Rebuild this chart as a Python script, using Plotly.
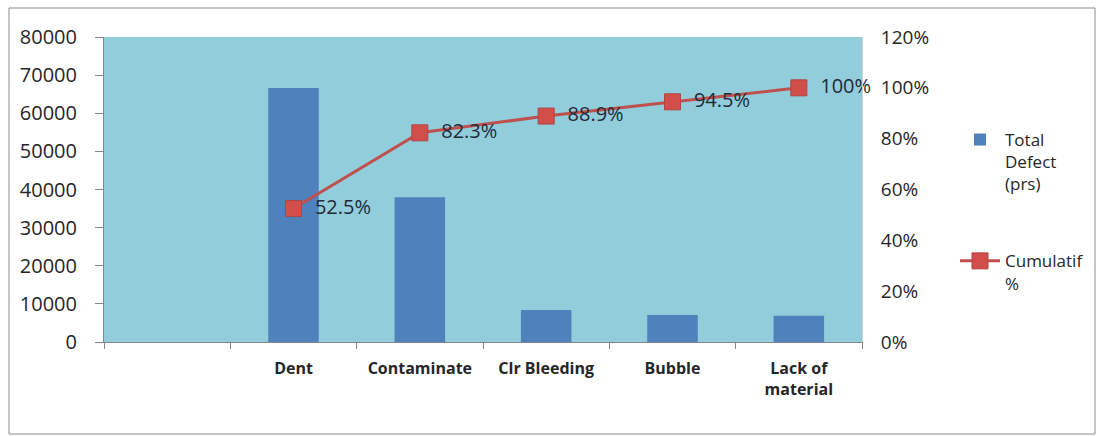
import plotly.graph_objects as go

categories = [" ", "Dent", "Contaminate", "Clr Bleeding", "Bubble", "Lack of<br>material"]
defects = [None, 66600, 38000, 8400, 7100, 6900]
cum_cats = ["Dent", "Contaminate", "Clr Bleeding", "Bubble", "Lack of<br>material"]
cum_pct = [0.525, 0.823, 0.889, 0.945, 1.0]
cum_labels = ["52.5%", "82.3%", "88.9%", "94.5%", "100%"]

W, H = 1096, 436
L, R, T, B = 104, 234, 37, 94
pw, ph = W - L - R, H - T - B

def px_x(x):
    return (x - L) / pw

def px_y(y):
    return (H - B - y) / ph

font = "Open Sans"
txt = "#262626"

fig = go.Figure()
fig.add_trace(go.Bar(
    x=categories, y=defects, name="Total<br>Defect<br>(prs)",
    marker=dict(color="#4F81BD", line=dict(width=0)),
    legendgroup="a",
))
fig.add_trace(go.Scatter(
    x=cum_cats, y=cum_pct, yaxis="y2", name="Cumulatif<br>%",
    mode="lines+markers+text", text=["  " + t for t in cum_labels], textposition="middle right",
    textfont=dict(family=font, size=20, color="#1F2A36"),
    line=dict(color="#C0504D", width=3),
    marker=dict(symbol="square", size=16, color="#D24E4B", line=dict(color="#B04542", width=1)),
    cliponaxis=False, legendgroup="b",
))

fig.update_layout(
    width=W, height=H,
    margin=dict(l=L, r=R, t=T, b=B, pad=0, autoexpand=False),
    paper_bgcolor="white", plot_bgcolor="#92CDDC",
    bargap=0.6,
    font=dict(family=font, color=txt),
    xaxis=dict(
        categoryorder="array", categoryarray=categories, automargin=False,
        showline=True, linecolor="#868686", linewidth=1,
        ticks="outside", tickson="boundaries", ticklen=6, tickcolor="#868686",
        tickfont=dict(family=font, size=16, color=txt, weight="bold"),
        ticklabelstandoff=12, showgrid=False, zeroline=False,
    ),
    yaxis=dict(
        range=[0, 80000], dtick=10000, tickformat="d", showgrid=False, zeroline=False,
        automargin=False,
        showline=True, linecolor="#868686", linewidth=1,
        ticks="outside", ticklen=8, tickcolor="#868686",
        tickfont=dict(family=font, size=20, color=txt),
        ticklabelstandoff=14,
    ),
    yaxis2=dict(
        overlaying="y", side="right", range=[0, 1.2], dtick=0.2, tickformat=".0%",
        automargin=False,
        showgrid=False, zeroline=False, showline=True, linecolor="#D0D0D0",
        ticks="", tickfont=dict(family=font, size=19, color=txt),
        ticklabelstandoff=14,
    ),
    legend=dict(
        x=px_x(955), y=px_y(122), xanchor="left", yanchor="top",
        font=dict(family=font, size=17, color=txt),
        valign="top", tracegroupgap=52, traceorder="grouped",
        bgcolor="rgba(0,0,0,0)", itemwidth=40,
    ),
    showlegend=True,
    shapes=[dict(
        type="rect", xref="paper", yref="paper",
        x0=px_x(9), x1=px_x(1095), y0=px_y(434), y1=px_y(8),
        line=dict(color="#8C8C8C", width=1), layer="below",
    )],
)

fig.write_html("out.html", post_script="document.body.style.margin='0';",
               config={"displayModeBar": False})
